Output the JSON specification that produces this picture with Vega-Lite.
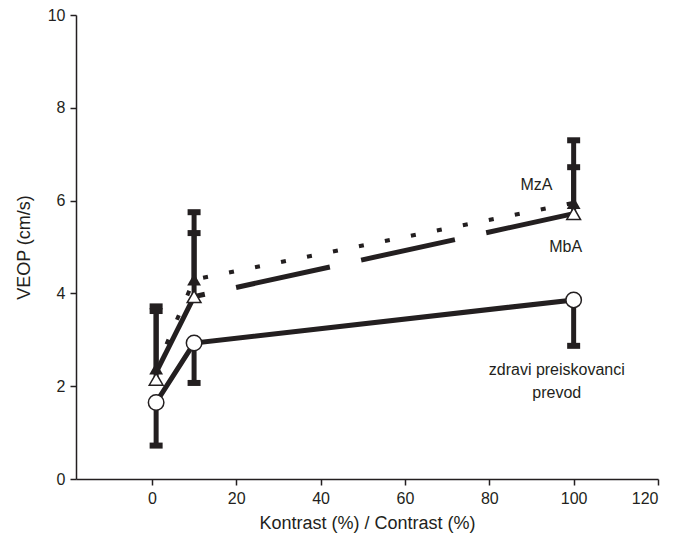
{
  "$schema": "https://vega.github.io/schema/vega-lite/v6.json",
  "autosize": "none",
  "width": 582,
  "height": 464,
  "padding": {"left": 76, "top": 15, "right": 19, "bottom": 61},
  "background": "white",
  "config": {
    "view": {"stroke": null},
    "font": "Liberation Sans",
    "axis": {
      "grid": false,
      "domainColor": "#231f20",
      "domainWidth": 1.5,
      "tickColor": "#231f20",
      "tickWidth": 1.5,
      "tickSize": 6,
      "labelColor": "#231f20",
      "labelFontSize": 16,
      "labelFont": "Liberation Sans",
      "titleFont": "Liberation Sans",
      "titleFontSize": 18,
      "titleFontWeight": "normal",
      "titleColor": "#231f20"
    }
  },
  "datasets": {
    "pts": [
      {"group": "zdravi", "x": 1, "y": 1.65, "e": 0.72},
      {"group": "zdravi", "x": 10, "y": 2.93, "e": 2.07},
      {"group": "zdravi", "x": 100, "y": 3.86, "e": 2.87},
      {"group": "MbA", "x": 1, "y": 2.15, "e": 3.62},
      {"group": "MbA", "x": 10, "y": 3.93, "e": 5.3},
      {"group": "MbA", "x": 100, "y": 5.72, "e": 6.72},
      {"group": "MzA", "x": 1, "y": 2.38, "e": 3.72},
      {"group": "MzA", "x": 10, "y": 4.3, "e": 5.75},
      {"group": "MzA", "x": 100, "y": 5.95, "e": 7.3}
    ],
    "lines": [
      {"seg": "zdravi", "x": 1, "y": 1.65},
      {"seg": "zdravi", "x": 10, "y": 2.93},
      {"seg": "zdravi", "x": 100, "y": 3.86},
      {"seg": "MbA1", "x": 1, "y": 2.3},
      {"seg": "MbA1", "x": 10, "y": 3.93},
      {"seg": "MbA2", "x": 10, "y": 3.93},
      {"seg": "MbA2", "x": 100, "y": 5.72}
    ],
    "dots": [
      {"seg": "MzA", "x": 1, "y": 2.38},
      {"seg": "MzA", "x": 10, "y": 4.3},
      {"seg": "MzA", "x": 100, "y": 5.95}
    ],
    "labels": [
      {"label": "MzA", "x": 91.2, "y": 6.34},
      {"label": "MbA", "x": 98.1, "y": 5.0},
      {"label": "zdravi preiskovanci", "x": 96, "y": 2.35},
      {"label": "prevod", "x": 96, "y": 1.85}
    ]
  },
  "encoding": {
    "x": {
      "field": "x", "type": "quantitative",
      "scale": {"domain": [-18, 120], "nice": false, "zero": false},
      "axis": {"values": [0, 20, 40, 60, 80, 100, 120], "title": "Kontrast (%) / Contrast (%)", "titlePadding": 8, "labelPadding": 5}
    },
    "y": {
      "field": "y", "type": "quantitative",
      "scale": {"domain": [0, 10], "nice": false},
      "axis": {"values": [0, 2, 4, 6, 8, 10], "title": "VEOP (cm/s)", "titlePadding": 14, "labelPadding": 5}
    }
  },
  "layer": [
    {
      "data": {"name": "lines"},
      "transform": [{"filter": "datum.seg != 'MbA2'"}],
      "mark": {"type": "line", "color": "#231f20", "strokeWidth": 5},
      "encoding": {"detail": {"field": "seg"}}
    },
    {
      "data": {"name": "lines"},
      "transform": [{"filter": "datum.seg == 'MbA2'"}],
      "mark": {"type": "line", "color": "#231f20", "strokeWidth": 5, "strokeDash": [96, 32], "strokeDashOffset": 85},
      "encoding": {"detail": {"field": "seg"}}
    },
    {
      "data": {"name": "dots"},
      "mark": {"type": "line", "color": "#231f20", "strokeWidth": 4, "strokeDash": [5, 21.5], "strokeDashOffset": 0},
      "encoding": {"detail": {"field": "seg"}}
    },
    {
      "data": {"name": "pts"},
      "mark": {"type": "rule", "color": "#231f20", "strokeWidth": 5},
      "encoding": {"y2": {"field": "e"}}
    },
    {
      "data": {"name": "pts"},
      "mark": {"type": "tick", "color": "#231f20", "orient": "horizontal", "size": 13, "thickness": 6, "opacity": 1},
      "encoding": {"y": {"field": "e", "type": "quantitative"}}
    },
    {
      "data": {"name": "pts"},
      "transform": [{"filter": "datum.group == 'MzA'"}],
      "mark": {"type": "point", "shape": "triangle-up", "filled": true, "color": "#231f20", "size": 190, "opacity": 1}
    },
    {
      "data": {"name": "pts"},
      "transform": [{"filter": "datum.group == 'MbA'"}],
      "mark": {"type": "point", "shape": "triangle-up", "filled": true, "fill": "white", "stroke": "#231f20", "strokeWidth": 1.5, "size": 190, "opacity": 1}
    },
    {
      "data": {"name": "pts"},
      "transform": [{"filter": "datum.group == 'zdravi'"}],
      "mark": {"type": "point", "shape": "circle", "filled": true, "fill": "white", "stroke": "#231f20", "strokeWidth": 1.5, "size": 240, "opacity": 1}
    },
    {
      "data": {"name": "labels"},
      "mark": {"type": "text", "fontSize": 16, "color": "#231f20", "align": "center", "baseline": "middle", "font": "Liberation Sans"},
      "encoding": {"text": {"field": "label"}}
    }
  ]
}
